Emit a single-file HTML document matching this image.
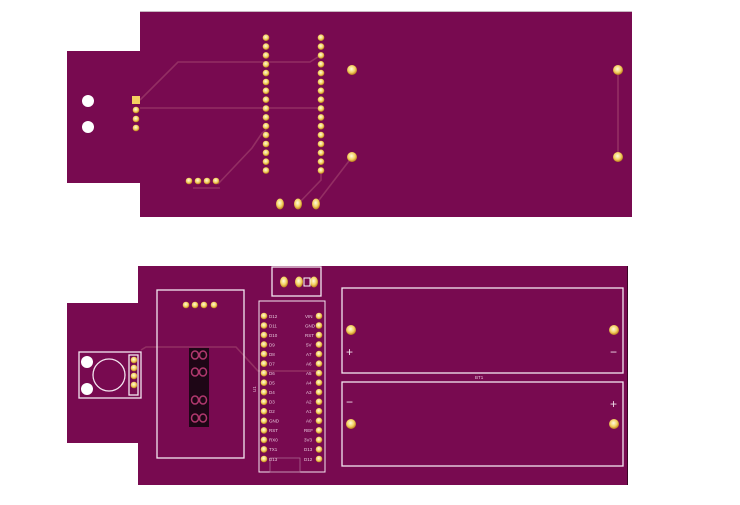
<!DOCTYPE html>
<html><head><meta charset="utf-8"><style>
html,body{margin:0;padding:0;background:#fff;}
svg{display:block;}
text{font-family:"Liberation Sans",sans-serif;}
</style></head><body>
<svg width="740" height="505" viewBox="0 0 740 505" xmlns="http://www.w3.org/2000/svg">
<defs>
<radialGradient id="g" cx="45%" cy="40%" r="60%"><stop offset="0" stop-color="#fffbe0"/><stop offset="0.6" stop-color="#f3d060"/><stop offset="1" stop-color="#b87818"/></radialGradient>
<circle id="p" r="3.3" fill="url(#g)"/>
<circle id="P" r="5" fill="url(#g)"/>
<ellipse id="o" rx="4" ry="5.5" fill="url(#g)"/>
</defs>
<!-- TOP BOARD -->
<line x1="140" y1="11.5" x2="632" y2="11.5" stroke="#c8b8c0" stroke-width="1"/>
<path d="M140 12H632V217H140V183H67V51H140Z" fill="#780a50"/>
<g stroke="#9a3868" stroke-width="1.6" fill="none" opacity="0.8">
<path d="M140 100L178 62H310L321 55"/>
<path d="M140 108H321"/>
<path d="M218 184L252 148L262 133L266 130"/>
<path d="M193 188H220"/>
<path d="M321 170V180L298 204"/>
<path d="M352 157L316 204"/>
<path d="M618 70V157"/>
</g>
<circle cx="88" cy="101" r="6" fill="#fff"/>
<circle cx="88" cy="127" r="6" fill="#fff"/>
<rect x="132" y="96" width="8" height="8" fill="#f3d060"/>
<use href="#p" x="136" y="110"/><use href="#p" x="136" y="119"/><use href="#p" x="136" y="128"/>
<g>
<use href="#p" x="266" y="37.7"/><use href="#p" x="266" y="46.6"/><use href="#p" x="266" y="55.4"/><use href="#p" x="266" y="64.3"/><use href="#p" x="266" y="73.1"/><use href="#p" x="266" y="82"/><use href="#p" x="266" y="90.8"/><use href="#p" x="266" y="99.7"/><use href="#p" x="266" y="108.5"/><use href="#p" x="266" y="117.4"/><use href="#p" x="266" y="126.2"/><use href="#p" x="266" y="135.1"/><use href="#p" x="266" y="144"/><use href="#p" x="266" y="152.8"/><use href="#p" x="266" y="161.7"/><use href="#p" x="266" y="170.5"/>
<use href="#p" x="321" y="37.7"/><use href="#p" x="321" y="46.6"/><use href="#p" x="321" y="55.4"/><use href="#p" x="321" y="64.3"/><use href="#p" x="321" y="73.1"/><use href="#p" x="321" y="82"/><use href="#p" x="321" y="90.8"/><use href="#p" x="321" y="99.7"/><use href="#p" x="321" y="108.5"/><use href="#p" x="321" y="117.4"/><use href="#p" x="321" y="126.2"/><use href="#p" x="321" y="135.1"/><use href="#p" x="321" y="144"/><use href="#p" x="321" y="152.8"/><use href="#p" x="321" y="161.7"/><use href="#p" x="321" y="170.5"/>
</g>
<use href="#p" x="189" y="181"/><use href="#p" x="198" y="181"/><use href="#p" x="207" y="181"/><use href="#p" x="216" y="181"/>
<use href="#o" x="280" y="204"/><use href="#o" x="298" y="204"/><use href="#o" x="316" y="204"/>
<use href="#P" x="352" y="70"/><use href="#P" x="352" y="157"/>
<use href="#P" x="618" y="70"/><use href="#P" x="618" y="157"/>

<!-- BOTTOM BOARD -->
<path d="M138 266H627V485H138V443H67V303H138Z" fill="#780a50"/>
<line x1="627.5" y1="266" x2="627.5" y2="485" stroke="#3a0424" stroke-width="1"/>
<g stroke="#9a3868" stroke-width="1.6" fill="none" opacity="0.8">
<path d="M141 350L146 347H236L258 371H319"/>
</g>
<g fill="none" stroke="#f4e6f0" stroke-width="1.3">
<rect x="79" y="352" width="62" height="46"/>
<circle cx="109" cy="375" r="16"/>
<rect x="129" y="355" width="9" height="40"/>
<rect x="157" y="290" width="87" height="168"/>
<rect x="272" y="267" width="49" height="29"/>
<rect x="259" y="301" width="66" height="171" stroke-width="1"/>
<rect x="342" y="288" width="281" height="85"/>
<rect x="342" y="382" width="281" height="84"/>
</g>
<rect x="270" y="458" width="30" height="14" fill="none" stroke="#b07098" stroke-width="0.7"/>
<circle cx="87" cy="362" r="6" fill="#fff"/>
<circle cx="87" cy="389" r="6" fill="#fff"/>
<use href="#p" x="134" y="360"/><use href="#p" x="134" y="368"/><use href="#p" x="134" y="376"/><use href="#p" x="134" y="385"/>
<use href="#p" x="186" y="305"/><use href="#p" x="195" y="305"/><use href="#p" x="204" y="305"/><use href="#p" x="214" y="305"/>
<rect x="189" y="348" width="20" height="79" fill="#1e0616"/>
<g fill="none" stroke="#b0386e" stroke-width="1.5">
<ellipse cx="195" cy="355" rx="3.5" ry="4"/><ellipse cx="203" cy="355" rx="3.5" ry="4"/>
<ellipse cx="195" cy="372" rx="3.5" ry="4"/><ellipse cx="203" cy="372" rx="3.5" ry="4"/>
<ellipse cx="195" cy="400" rx="3.5" ry="4"/><ellipse cx="203" cy="400" rx="3.5" ry="4"/>
<ellipse cx="195" cy="418" rx="3.5" ry="4"/><ellipse cx="203" cy="418" rx="3.5" ry="4"/>
</g>
<use href="#o" x="284" y="282"/><use href="#o" x="299" y="282"/><use href="#o" x="314" y="282"/>
<rect x="304" y="278" width="6" height="8" fill="#780a50" stroke="#fff" stroke-width="1"/>
<g>
<use href="#p" x="264" y="316"/><use href="#p" x="264" y="325.5"/><use href="#p" x="264" y="335.1"/><use href="#p" x="264" y="344.6"/><use href="#p" x="264" y="354.1"/><use href="#p" x="264" y="363.7"/><use href="#p" x="264" y="373.2"/><use href="#p" x="264" y="382.7"/><use href="#p" x="264" y="392.2"/><use href="#p" x="264" y="401.8"/><use href="#p" x="264" y="411.3"/><use href="#p" x="264" y="420.8"/><use href="#p" x="264" y="430.4"/><use href="#p" x="264" y="439.9"/><use href="#p" x="264" y="449.4"/><use href="#p" x="264" y="459"/>
<use href="#p" x="319" y="316"/><use href="#p" x="319" y="325.5"/><use href="#p" x="319" y="335.1"/><use href="#p" x="319" y="344.6"/><use href="#p" x="319" y="354.1"/><use href="#p" x="319" y="363.7"/><use href="#p" x="319" y="373.2"/><use href="#p" x="319" y="382.7"/><use href="#p" x="319" y="392.2"/><use href="#p" x="319" y="401.8"/><use href="#p" x="319" y="411.3"/><use href="#p" x="319" y="420.8"/><use href="#p" x="319" y="430.4"/><use href="#p" x="319" y="439.9"/><use href="#p" x="319" y="449.4"/><use href="#p" x="319" y="459"/>
</g>
<g font-size="4.5" fill="#e8c8dc">
<text x="269" y="318">D12</text><text x="269" y="327.5">D11</text><text x="269" y="337">D10</text><text x="269" y="346.5">D9</text><text x="269" y="356">D8</text><text x="269" y="365.5">D7</text><text x="269" y="375">D6</text><text x="269" y="384.5">D5</text><text x="269" y="394">D4</text><text x="269" y="403.5">D3</text><text x="269" y="413">D2</text><text x="269" y="422.5">GND</text><text x="269" y="432">RST</text><text x="269" y="441.5">RX0</text><text x="269" y="451">TX1</text><text x="269" y="461">D13</text>
<text x="305" y="318">VIN</text><text x="305" y="327.5">GND</text><text x="305" y="337">RST</text><text x="306" y="346.5">5V</text><text x="306" y="356">A7</text><text x="306" y="365.5">A6</text><text x="306" y="375">A5</text><text x="306" y="384.5">A4</text><text x="306" y="394">A3</text><text x="306" y="403.5">A2</text><text x="306" y="413">A1</text><text x="306" y="422.5">A0</text><text x="304" y="432">REF</text><text x="304" y="441.5">3V3</text><text x="304" y="451">D13</text><text x="304" y="461">D12</text>
<text x="252" y="392" transform="rotate(-90 254 390)">U1</text>
<text x="475" y="379">BT1</text>
</g>
<use href="#P" x="351" y="330"/><use href="#P" x="614" y="330"/>
<use href="#P" x="351" y="424"/><use href="#P" x="614" y="424"/>
<g font-size="12" fill="#f0e0ea">
<text x="346" y="356">+</text><text x="610" y="356">−</text>
<text x="346" y="406">−</text><text x="610" y="408">+</text>
</g>
</svg>
</body></html>
